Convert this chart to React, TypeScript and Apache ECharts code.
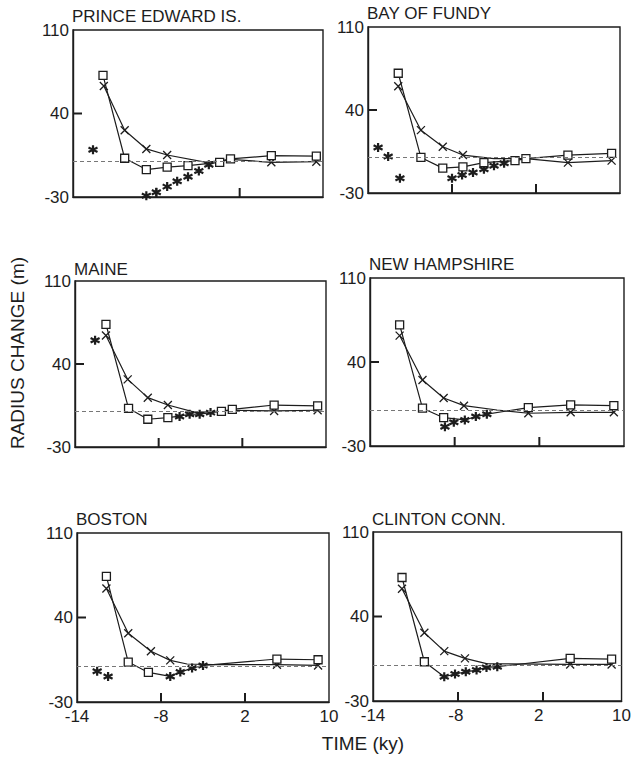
import { useEffect, useRef } from 'react';
import * as echarts from 'echarts';

// x values are positions along the printed time axis (tick 0..3 = -14, -8, 2, 10 ky)
const xTickLabels = ['-14', '-8', '2', '10'];
const xTickPositions = [0, 1, 2, 3];
const yTickValues = [-30, 40, 110];
const referenceLevel = 0;
const panelTitles = ['PRINCE EDWARD IS.', 'BAY OF FUNDY', 'MAINE', 'NEW HAMPSHIRE', 'BOSTON', 'CLINTON CONN.'];

// [x position, radius change (m), marker visible (0 = hidden under another mark)]
const peiSquares = [[0.36, 72], [0.62, 2.5], [0.88, -7], [1.13, -5], [1.38, -3.7], [1.76, -0.9], [1.89, 1.9], [2.38, 4.7], [2.92, 4.2]];
const peiCrosses = [[0.37, 63], [0.62, 26], [0.88, 10.3], [1.13, 5.2], [1.6, -0.9, 0], [1.89, 1.5, 0], [2.38, -0.9], [2.92, -0.4]];
const peiStars = [[0.24, 9.7], [0.88, -29], [1.0, -26], [1.13, -21.3], [1.25, -16.8], [1.38, -13], [1.51, -8.2], [1.63, -2.9]];

const bayLevels = [[0.36, 71], [0.63, 0], [0.89, -9], [1.13, -8], [1.38, -4.4], [1.75, -2.7], [1.88, -1], [2.38, 2], [2.9, 3.5]];
const bayCrosses = [[0.36, 60], [0.63, 23], [0.89, 9], [1.13, 2], [1.5, -1, 0], [1.88, -1, 0], [2.38, -4.4], [2.9, -2.7]];
const bayStars = [[0.12, 8.3], [0.24, 0.7], [0.38, -17.6], [1.0, -17.6], [1.12, -14.8], [1.25, -12.8], [1.38, -10], [1.5, -7], [1.62, -5]];

const maineSquares = [[0.37, 73.5], [0.64, 2.6], [0.87, -6.6], [1.11, -5.2], [1.25, -4, 0], [1.37, -2.4, 0], [1.49, -2.4, 0], [1.62, -1, 0], [1.75, 0], [1.88, 1.8], [2.38, 5.4], [2.9, 4.6]];
const maineCrosses = [[0.37, 64], [0.63, 27], [0.87, 11.6], [1.11, 5.4], [1.45, -1, 0], [1.88, 1, 0], [2.38, 0.4], [2.9, 1]];
const maineStars = [[0.24, 60], [1.25, -4.3], [1.37, -2.4], [1.49, -2.4], [1.62, -1]];

const nhSquares = [[0.35, 71], [0.62, 1.5], [0.87, -6.4], [1.12, -8.3, 0], [1.25, -5.5, 0], [1.38, -3.5, 0], [1.87, 2], [2.37, 4.2], [2.88, 3.6]];
const nhCrosses = [[0.35, 62], [0.62, 25], [0.87, 10], [1.11, 3.6], [1.5, 0, 0], [1.87, -2.7], [2.37, -1.9], [2.88, -1.9]];
const nhStars = [[0.885, -14], [0.99, -10.2], [1.12, -8.3], [1.25, -5.5], [1.38, -3.5]];

const bostonSquares = [[0.35, 74], [0.61, 3.1], [0.85, -5.5], [1.11, -8.8, 0], [1.23, -5.2, 0], [1.37, -1.9, 0], [1.5, 0.3, 0], [1.62, 1, 0], [2.38, 5.6], [2.87, 5]];
const bostonCrosses = [[0.35, 64], [0.61, 27], [0.88, 12], [1.11, 4.5], [1.31, 1.5, 0], [1.62, 1, 0], [2.38, 0.9], [2.87, 0.3]];
const bostonStars = [[0.24, -4.6], [0.37, -8.8], [1.11, -8.8], [1.23, -5.2], [1.37, -1.9], [1.5, 0.3]];

const clintonSquares = [[0.35, 72.3], [0.62, 2.5], [0.86, -9.9, 0], [0.99, -7.7, 0], [1.12, -5.8, 0], [1.25, -4.4, 0], [1.37, -2.2, 0], [1.5, -1.6, 0], [2.38, 5.3], [2.88, 4.7]];
const clintonCrosses = [[0.35, 63], [0.62, 26.5], [0.86, 11.3], [1.11, 5.3], [1.37, 1, 0], [2.38, 0.3], [2.88, 0.3]];
const clintonStars = [[0.86, -9.9], [0.99, -7.7], [1.12, -5.8], [1.25, -4.4], [1.37, -2.2], [1.5, -1.6]];

const squareSets = [peiSquares, bayLevels, maineSquares, nhSquares, bostonSquares, clintonSquares];
const crossSets = [peiCrosses, bayCrosses, maineCrosses, nhCrosses, bostonCrosses, clintonCrosses];
const starSets = [peiStars, bayStars, maineStars, nhStars, bostonStars, clintonStars];

// layout (pixels)
const gridBoxes = [
  { left: 73, top: 30, width: 250, height: 167, titleTop: 8 },
  { left: 368, top: 27, width: 252, height: 166, titleTop: 5 },
  { left: 75, top: 281, width: 251, height: 166, titleTop: 261 },
  { left: 370, top: 278, width: 254, height: 168, titleTop: 256 },
  { left: 77, top: 533, width: 252, height: 169, titleTop: 511 },
  { left: 373, top: 532, width: 255, height: 169, titleTop: 511 },
];
const TICK_LEN = 9;
const TICK_W = 2;

const FONT = 'Liberation Sans';
const INK = '#1d1d1d';
const CROSS = 'path://M0 0L10 10M10 0L0 10';
const STAR = 'path://M5 0L5 10M0.67 2.5L9.33 7.5M0.67 7.5L9.33 2.5';

function toData(pts: number[][]) {
  return pts.map((p) => (p[2] === 0 ? { value: [p[0], p[1]], symbol: 'none' } : { value: [p[0], p[1]] }));
}

export default function App() {
  const ref = useRef<HTMLDivElement>(null);
  useEffect(() => {
    if (!ref.current) return;
    const chart = echarts.init(ref.current, null, { renderer: 'svg' });
    const grids: any[] = [];
    const xAxes: any[] = [];
    const yAxes: any[] = [];
    const titles: any[] = [];
    const series: any[] = [];
    const tickMarks: any[] = [];
    const xMin = xTickPositions[0];
    const xMax = xTickPositions[xTickPositions.length - 1];
    const yMin = yTickValues[0];
    const yMax = yTickValues[yTickValues.length - 1];
    gridBoxes.forEach((g, i) => {
      const bottomRow = i >= 4;
      grids.push({ left: g.left, top: g.top, width: g.width, height: g.height, show: true, borderColor: INK, borderWidth: 1.4 });
      xAxes.push({
        type: 'value', gridIndex: i, min: xMin, max: xMax, interval: 1, position: 'bottom',
        axisLine: { show: true, onZero: false, lineStyle: { color: INK, width: 1.4 } },
        axisTick: { show: false },
        splitLine: { show: false },
        axisLabel: { show: bottomRow, margin: 6, fontFamily: FONT, fontSize: 17, color: INK, formatter: (v: number) => xTickLabels[Math.round(v)] ?? '' },
      });
      yAxes.push({
        type: 'value', gridIndex: i, min: yMin, max: yMax, position: 'left',
        axisLine: { show: true, onZero: false, lineStyle: { color: INK, width: 1.4 } },
        axisTick: { show: false },
        splitLine: { show: false },
        axisLabel: { show: true, margin: 4, fontFamily: FONT, fontSize: 17, color: INK, customValues: yTickValues },
      });
      titles.push({ text: panelTitles[i], left: g.left - 1, top: g.titleTop, padding: 0, textStyle: { fontFamily: FONT, fontSize: 17, fontWeight: 'normal', color: INK } });
      series.push({
        type: 'line', xAxisIndex: i, yAxisIndex: i, data: toData(crossSets[i]), symbol: CROSS, symbolSize: 8, showAllSymbol: true,
        lineStyle: { color: INK, width: 1.2 }, itemStyle: { color: INK, borderColor: INK, borderWidth: 1.3 },
        markLine: { silent: true, symbol: ['none', 'none'], label: { show: false }, lineStyle: { type: [4, 3], color: '#777', width: 1 }, data: [{ yAxis: referenceLevel }] },
      });
      series.push({
        type: 'line', xAxisIndex: i, yAxisIndex: i, data: toData(squareSets[i]), symbol: 'rect', symbolSize: 8, showAllSymbol: true,
        lineStyle: { color: INK, width: 1.2 }, itemStyle: { color: '#fff', borderColor: INK, borderWidth: 1.3 },
      });
      series.push({
        type: 'scatter', xAxisIndex: i, yAxisIndex: i, data: starSets[i].map((p) => [p[0], p[1]]), symbol: STAR, symbolSize: 9,
        itemStyle: { color: INK, borderColor: INK, borderWidth: 2.2, opacity: 1 },
      });
      // inner tick marks along the bottom and left edges of the panel frame (filled rects)
      const bottom = g.top + g.height;
      xTickPositions.slice(1, -1).forEach((v) => {
        const px = g.left + ((v - xMin) / (xMax - xMin)) * g.width;
        tickMarks.push({ type: 'rect', silent: true, z: 100, zlevel: 0, shape: { x: px - TICK_W / 2, y: bottom - TICK_LEN, width: TICK_W, height: TICK_LEN }, style: { fill: INK } });
      });
      yTickValues.slice(1, -1).forEach((v) => {
        const py = bottom - ((v - yMin) / (yMax - yMin)) * g.height;
        tickMarks.push({ type: 'rect', silent: true, z: 100, zlevel: 0, shape: { x: g.left, y: py - TICK_W / 2, width: TICK_LEN, height: TICK_W }, style: { fill: INK } });
      });
    });
    const axisTitles: any[] = [
      { type: 'text', x: 17, y: 353, rotation: Math.PI / 2, style: { text: 'RADIUS CHANGE (m)', font: `19px "${FONT}"`, fill: INK, align: 'center', verticalAlign: 'middle' } },
      { type: 'text', x: 363, y: 743, style: { text: 'TIME (ky)', font: `19px "${FONT}"`, fill: INK, align: 'center', verticalAlign: 'middle' } },
    ];
    chart.setOption({ animation: false, title: titles, grid: grids, xAxis: xAxes, yAxis: yAxes, series, graphic: { elements: [...axisTitles, ...tickMarks] } });
    return () => chart.dispose();
  }, []);
  return <div ref={ref} style={{ position: 'fixed', left: 0, top: 0, width: 634, height: 759, background: '#fff' }} />;
}
